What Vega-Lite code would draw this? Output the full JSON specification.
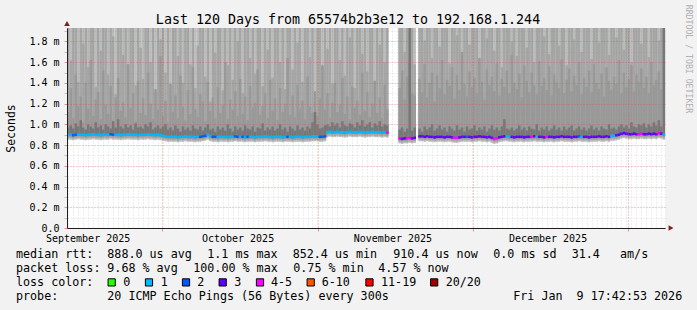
{
"$schema":"https://vega.github.io/schema/vega-lite/v6.json",
"width":598,"height":200,
"autosize":"none",
"padding":{"left":67,"top":28,"right":32,"bottom":82},
"background":"#f2f2f2",
"config":{"view":{"fill":"#ffffff","stroke":null},"text":{"font":"DejaVu Sans Mono"},"axis":{"labelFont":"DejaVu Sans Mono","titleFont":"DejaVu Sans Mono"}},
"resolve":{"scale":{"x":"independent","y":"independent"}},
"layer":[
{"data":{"values":[
{"t":"2025-09-12T00:00","b":1.93,"c":1.12,"e":0.97,"m":0.9,"l":"1"},
{"t":"2025-09-12T12:00","b":1.62,"c":1.35,"e":0.99,"m":0.9,"l":"1"},
{"t":"2025-09-13T00:00","b":1.93,"c":1.06,"e":0.96,"m":0.895,"l":"2"},
{"t":"2025-09-13T12:00","b":1.93,"c":1.48,"e":1.01,"m":0.9,"l":"2"},
{"t":"2025-09-14T00:00","b":1.41,"c":1.18,"e":0.98,"m":0.905,"l":"1"},
{"t":"2025-09-14T12:00","b":1.93,"c":1.27,"e":1.04,"m":0.9,"l":"1"},
{"t":"2025-09-15T00:00","b":1.78,"c":1.02,"e":0.97,"m":0.9,"l":"1"},
{"t":"2025-09-15T12:00","b":1.93,"c":1.4,"e":0.95,"m":0.895,"l":"1"},
{"t":"2025-09-16T00:00","b":1.55,"c":1.15,"e":1.0,"m":0.9,"l":"1"},
{"t":"2025-09-16T12:00","b":1.93,"c":1.62,"e":0.98,"m":0.9,"l":"1"},
{"t":"2025-09-17T00:00","b":1.93,"c":1.08,"e":0.96,"m":0.905,"l":"1"},
{"t":"2025-09-17T12:00","b":1.36,"c":1.24,"e":1.02,"m":0.9,"l":"1"},
{"t":"2025-09-18T00:00","b":1.93,"c":1.31,"e":0.97,"m":0.9,"l":"1"},
{"t":"2025-09-18T12:00","b":1.71,"c":1.05,"e":0.99,"m":0.895,"l":"1"},
{"t":"2025-09-19T00:00","b":1.93,"c":1.52,"e":0.95,"m":0.9,"l":"1"},
{"t":"2025-09-19T12:00","b":1.93,"c":1.19,"e":1.0,"m":0.9,"l":"1"},
{"t":"2025-09-20T00:00","b":1.48,"c":1.1,"e":0.98,"m":0.9,"l":"1"},
{"t":"2025-09-20T12:00","b":1.93,"c":1.37,"e":0.96,"m":0.905,"l":"2"},
{"t":"2025-09-21T00:00","b":1.85,"c":1.04,"e":1.03,"m":0.9,"l":"2"},
{"t":"2025-09-21T12:00","b":1.29,"c":1.26,"e":0.97,"m":0.9,"l":"1"},
{"t":"2025-09-22T00:00","b":1.93,"c":1.45,"e":1.05,"m":0.9,"l":"1"},
{"t":"2025-09-22T12:00","b":1.93,"c":1.13,"e":0.98,"m":0.895,"l":"1"},
{"t":"2025-09-23T00:00","b":1.67,"c":1.21,"e":0.96,"m":0.9,"l":"1"},
{"t":"2025-09-23T12:00","b":1.93,"c":1.07,"e":1.0,"m":0.9,"l":"1"},
{"t":"2025-09-24T00:00","b":1.52,"c":1.58,"e":0.97,"m":0.905,"l":"1"},
{"t":"2025-09-24T12:00","b":1.93,"c":1.16,"e":0.99,"m":0.9,"l":"1"},
{"t":"2025-09-25T00:00","b":1.93,"c":1.3,"e":0.95,"m":0.9,"l":"1"},
{"t":"2025-09-25T12:00","b":1.38,"c":1.03,"e":1.01,"m":0.9,"l":"1"},
{"t":"2025-09-26T00:00","b":1.93,"c":1.42,"e":0.97,"m":0.895,"l":"1"},
{"t":"2025-09-26T12:00","b":1.74,"c":1.11,"e":0.98,"m":0.9,"l":"1"},
{"t":"2025-09-27T00:00","b":1.44,"c":1.25,"e":0.96,"m":0.9,"l":"1"},
{"t":"2025-09-27T12:00","b":1.93,"c":1.09,"e":1.0,"m":0.9,"l":"1"},
{"t":"2025-09-28T00:00","b":1.93,"c":1.5,"e":0.98,"m":0.905,"l":"1"},
{"t":"2025-09-28T12:00","b":1.6,"c":1.2,"e":1.02,"m":0.9,"l":"1"},
{"t":"2025-09-29T00:00","b":1.93,"c":1.05,"e":0.95,"m":0.9,"l":"1"},
{"t":"2025-09-29T12:00","b":1.31,"c":1.34,"e":0.97,"m":0.895,"l":"1"},
{"t":"2025-09-30T00:00","b":1.93,"c":1.14,"e":0.99,"m":0.9,"l":"1"},
{"t":"2025-09-30T12:00","b":1.82,"c":1.66,"e":0.96,"m":0.895,"l":"1"},
{"t":"2025-10-01T00:00","b":1.93,"c":1.08,"e":0.98,"m":0.89,"l":"1"},
{"t":"2025-10-01T12:00","b":1.5,"c":1.23,"e":1.0,"m":0.885,"l":"1"},
{"t":"2025-10-02T00:00","b":1.93,"c":1.02,"e":0.95,"m":0.88,"l":"1"},
{"t":"2025-10-02T12:00","b":1.27,"c":1.39,"e":0.97,"m":0.88,"l":"1"},
{"t":"2025-10-03T00:00","b":1.93,"c":1.12,"e":0.94,"m":0.88,"l":"1"},
{"t":"2025-10-03T12:00","b":1.93,"c":1.28,"e":0.99,"m":0.88,"l":"1"},
{"t":"2025-10-04T00:00","b":1.66,"c":1.06,"e":0.96,"m":0.875,"l":"1"},
{"t":"2025-10-04T12:00","b":1.93,"c":1.47,"e":0.93,"m":0.88,"l":"1"},
{"t":"2025-10-05T00:00","b":1.4,"c":1.17,"e":0.98,"m":0.88,"l":"1"},
{"t":"2025-10-05T12:00","b":1.93,"c":1.04,"e":0.95,"m":0.885,"l":"1"},
{"t":"2025-10-06T00:00","b":1.93,"c":1.33,"e":0.97,"m":0.88,"l":"1"},
{"t":"2025-10-06T12:00","b":1.58,"c":1.1,"e":0.94,"m":0.88,"l":"1"},
{"t":"2025-10-07T00:00","b":1.93,"c":1.55,"e":0.99,"m":0.88,"l":"1"},
{"t":"2025-10-07T12:00","b":1.35,"c":1.15,"e":0.96,"m":0.875,"l":"1"},
{"t":"2025-10-08T00:00","b":1.76,"c":1.07,"e":0.95,"m":0.88,"l":"1"},
{"t":"2025-10-08T12:00","b":1.93,"c":1.29,"e":0.98,"m":0.88,"l":"2"},
{"t":"2025-10-09T00:00","b":1.93,"c":1.22,"e":0.94,"m":0.885,"l":"2"},
{"t":"2025-10-09T12:00","b":1.46,"c":1.03,"e":0.97,"m":0.89,"l":"2"},
{"t":"2025-10-10T00:00","b":1.93,"c":1.41,"e":1.0,"m":0.9,"l":"1"},
{"t":"2025-10-10T12:00","b":1.22,"c":1.13,"e":0.95,"m":0.885,"l":"1"},
{"t":"2025-10-11T00:00","b":1.93,"c":1.26,"e":0.96,"m":0.88,"l":"2"},
{"t":"2025-10-11T12:00","b":1.69,"c":1.06,"e":0.93,"m":0.88,"l":"2"},
{"t":"2025-10-12T00:00","b":1.93,"c":1.36,"e":0.98,"m":0.875,"l":"1"},
{"t":"2025-10-12T12:00","b":1.93,"c":1.11,"e":0.95,"m":0.88,"l":"1"},
{"t":"2025-10-13T00:00","b":1.33,"c":1.19,"e":0.97,"m":0.88,"l":"1"},
{"t":"2025-10-13T12:00","b":1.93,"c":1.6,"e":0.94,"m":0.88,"l":"1"},
{"t":"2025-10-14T00:00","b":1.57,"c":1.05,"e":1.0,"m":0.875,"l":"1"},
{"t":"2025-10-14T12:00","b":1.93,"c":1.24,"e":0.96,"m":0.88,"l":"1"},
{"t":"2025-10-15T00:00","b":1.43,"c":1.14,"e":0.93,"m":0.88,"l":"1"},
{"t":"2025-10-15T12:00","b":1.93,"c":1.32,"e":0.98,"m":0.885,"l":"2"},
{"t":"2025-10-16T00:00","b":1.8,"c":1.08,"e":0.95,"m":0.88,"l":"2"},
{"t":"2025-10-16T12:00","b":1.93,"c":1.44,"e":0.97,"m":0.88,"l":"1"},
{"t":"2025-10-17T00:00","b":1.3,"c":1.1,"e":0.94,"m":0.88,"l":"2"},
{"t":"2025-10-17T12:00","b":1.93,"c":1.27,"e":0.99,"m":0.875,"l":"1"},
{"t":"2025-10-18T00:00","b":1.93,"c":1.04,"e":0.96,"m":0.88,"l":"2"},
{"t":"2025-10-18T12:00","b":1.64,"c":1.37,"e":0.95,"m":0.88,"l":"1"},
{"t":"2025-10-19T00:00","b":1.93,"c":1.16,"e":0.98,"m":0.88,"l":"1"},
{"t":"2025-10-19T12:00","b":1.49,"c":1.21,"e":0.93,"m":0.875,"l":"1"},
{"t":"2025-10-20T00:00","b":1.93,"c":1.53,"e":0.97,"m":0.88,"l":"1"},
{"t":"2025-10-20T12:00","b":1.93,"c":1.09,"e":0.96,"m":0.88,"l":"1"},
{"t":"2025-10-21T00:00","b":1.37,"c":1.18,"e":1.01,"m":0.88,"l":"1"},
{"t":"2025-10-21T12:00","b":1.93,"c":1.3,"e":0.94,"m":0.885,"l":"1"},
{"t":"2025-10-22T00:00","b":1.72,"c":1.06,"e":0.97,"m":0.88,"l":"1"},
{"t":"2025-10-22T12:00","b":1.93,"c":1.43,"e":0.95,"m":0.88,"l":"1"},
{"t":"2025-10-23T00:00","b":1.45,"c":1.13,"e":0.98,"m":0.875,"l":"1"},
{"t":"2025-10-23T12:00","b":1.93,"c":1.25,"e":0.94,"m":0.88,"l":"1"},
{"t":"2025-10-24T00:00","b":1.93,"c":1.04,"e":0.96,"m":0.88,"l":"1"},
{"t":"2025-10-24T12:00","b":1.6,"c":1.35,"e":1.0,"m":0.88,"l":"1"},
{"t":"2025-10-25T00:00","b":1.93,"c":1.12,"e":0.95,"m":0.875,"l":"1"},
{"t":"2025-10-25T12:00","b":1.34,"c":1.2,"e":0.97,"m":0.88,"l":"1"},
{"t":"2025-10-26T00:00","b":1.93,"c":1.64,"e":0.93,"m":0.88,"l":"2"},
{"t":"2025-10-26T12:00","b":1.93,"c":1.09,"e":0.98,"m":0.88,"l":"1"},
{"t":"2025-10-27T00:00","b":1.53,"c":1.28,"e":0.96,"m":0.875,"l":"1"},
{"t":"2025-10-27T12:00","b":1.93,"c":1.07,"e":0.94,"m":0.88,"l":"1"},
{"t":"2025-10-28T00:00","b":1.79,"c":1.38,"e":0.99,"m":0.88,"l":"1"},
{"t":"2025-10-28T12:00","b":1.93,"c":1.15,"e":0.95,"m":0.88,"l":"1"},
{"t":"2025-10-29T00:00","b":1.41,"c":1.23,"e":0.97,"m":0.875,"l":"1"},
{"t":"2025-10-29T12:00","b":1.93,"c":1.05,"e":0.94,"m":0.88,"l":"1"},
{"t":"2025-10-30T00:00","b":1.93,"c":1.46,"e":0.98,"m":0.88,"l":"1"},
{"t":"2025-10-30T12:00","b":1.65,"c":1.17,"e":0.96,"m":0.88,"l":"1"},
{"t":"2025-10-31T00:00","b":1.93,"c":1.11,"e":1.02,"m":0.885,"l":"1"},
{"t":"2025-10-31T12:00","b":1.28,"c":1.32,"e":1.12,"m":0.885,"l":"1"},
{"t":"2025-11-01T00:00","b":1.93,"c":1.08,"e":1.0,"m":0.885,"l":"1"},
{"t":"2025-11-01T12:00","b":1.93,"c":1.25,"e":0.96,"m":0.88,"l":"2"},
{"t":"2025-11-02T00:00","b":1.56,"c":1.57,"e":0.97,"m":0.88,"l":"2"},
{"t":"2025-11-02T12:00","b":1.93,"c":1.14,"e":0.99,"m":0.885,"l":"2"},
{"t":"2025-11-03T00:00","b":1.73,"c":1.3,"e":1.0,"m":0.925,"l":"1"},
{"t":"2025-11-03T12:00","b":1.93,"c":1.06,"e":0.98,"m":0.93,"l":"1"},
{"t":"2025-11-04T00:00","b":1.39,"c":1.21,"e":1.02,"m":0.925,"l":"1"},
{"t":"2025-11-04T12:00","b":1.93,"c":1.4,"e":0.99,"m":0.925,"l":"1"},
{"t":"2025-11-05T00:00","b":1.93,"c":1.12,"e":1.01,"m":0.93,"l":"1"},
{"t":"2025-11-05T12:00","b":1.62,"c":1.19,"e":0.97,"m":0.925,"l":"1"},
{"t":"2025-11-06T00:00","b":1.93,"c":1.45,"e":1.03,"m":0.925,"l":"1"},
{"t":"2025-11-06T12:00","b":1.47,"c":1.1,"e":0.99,"m":0.92,"l":"1"},
{"t":"2025-11-07T00:00","b":1.93,"c":1.27,"e":0.98,"m":0.925,"l":"1"},
{"t":"2025-11-07T12:00","b":1.84,"c":1.05,"e":1.01,"m":0.93,"l":"1"},
{"t":"2025-11-08T00:00","b":1.93,"c":1.36,"e":1.0,"m":0.925,"l":"1"},
{"t":"2025-11-08T12:00","b":1.35,"c":1.16,"e":0.97,"m":0.925,"l":"1"},
{"t":"2025-11-09T00:00","b":1.93,"c":1.23,"e":1.02,"m":0.925,"l":"1"},
{"t":"2025-11-09T12:00","b":1.93,"c":1.09,"e":0.99,"m":0.93,"l":"1"},
{"t":"2025-11-10T00:00","b":1.68,"c":1.5,"e":1.04,"m":0.925,"l":"1"},
{"t":"2025-11-10T12:00","b":1.93,"c":1.13,"e":0.98,"m":0.92,"l":"1"},
{"t":"2025-11-11T00:00","b":1.51,"c":1.31,"e":1.0,"m":0.925,"l":"1"},
{"t":"2025-11-11T12:00","b":1.93,"c":1.07,"e":1.02,"m":0.925,"l":"1"},
{"t":"2025-11-12T00:00","b":1.93,"c":1.2,"e":0.97,"m":0.93,"l":"1"},
{"t":"2025-11-12T12:00","b":1.42,"c":1.42,"e":1.01,"m":0.925,"l":"1"},
{"t":"2025-11-13T00:00","b":1.93,"c":1.11,"e":0.99,"m":0.925,"l":"1"},
{"t":"2025-11-13T12:00","b":1.77,"c":1.26,"e":1.03,"m":0.925,"l":"1"},
{"t":"2025-11-14T00:00","b":1.93,"c":1.06,"e":0.98,"m":0.92,"l":"1"},
{"t":"2025-11-14T12:00","b":1.6,"c":1.38,"e":1.0,"m":0.925,"l":"1"},
{"t":"2025-11-15T00:00","b":1.93,"c":1.15,"e":0.99,"m":0.92,"l":"4-5"},
{"t":"2025-11-17T12:00","b":1.93,"c":1.35,"e":0.95,"m":0.865,"l":"4-5"},
{"t":"2025-11-18T00:00","b":1.93,"c":1.52,"e":0.97,"m":0.86,"l":"3"},
{"t":"2025-11-18T12:00","b":1.7,"c":1.24,"e":0.93,"m":0.865,"l":"3"},
{"t":"2025-11-19T00:00","b":1.93,"c":1.46,"e":0.96,"m":0.865,"l":"4-5"},
{"t":"2025-11-19T12:00","b":1.93,"c":1.6,"e":1.93,"m":0.87,"l":"4-5"},
{"t":"2025-11-20T00:00","b":1.93,"c":1.3,"e":0.94,"m":0.865,"l":"3"},
{"t":"2025-11-20T12:00","b":1.58,"c":1.28,"e":0.97,"m":0.87,"l":"3"},
{"t":"2025-11-21T12:00","b":1.93,"c":1.44,"e":0.96,"m":0.885,"l":"3"},
{"t":"2025-11-22T00:00","b":1.93,"c":1.31,"e":0.93,"m":0.885,"l":"3"},
{"t":"2025-11-22T12:00","b":1.81,"c":1.58,"e":0.98,"m":0.88,"l":"3"},
{"t":"2025-11-23T00:00","b":1.93,"c":1.26,"e":0.95,"m":0.885,"l":"3"},
{"t":"2025-11-23T12:00","b":1.93,"c":1.4,"e":0.97,"m":0.88,"l":"3"},
{"t":"2025-11-24T00:00","b":1.64,"c":1.5,"e":1.0,"m":0.88,"l":"3"},
{"t":"2025-11-24T12:00","b":1.93,"c":1.22,"e":0.94,"m":0.875,"l":"3"},
{"t":"2025-11-25T00:00","b":1.93,"c":1.47,"e":0.96,"m":0.88,"l":"3"},
{"t":"2025-11-25T12:00","b":1.75,"c":1.35,"e":0.99,"m":0.88,"l":"3"},
{"t":"2025-11-26T00:00","b":1.93,"c":1.62,"e":0.95,"m":0.88,"l":"3"},
{"t":"2025-11-26T12:00","b":1.93,"c":1.29,"e":0.97,"m":0.875,"l":"3"},
{"t":"2025-11-27T00:00","b":1.93,"c":1.43,"e":0.93,"m":0.88,"l":"3"},
{"t":"2025-11-27T12:00","b":1.59,"c":1.37,"e":0.98,"m":0.88,"l":"3"},
{"t":"2025-11-28T00:00","b":1.93,"c":1.55,"e":0.96,"m":0.875,"l":"3"},
{"t":"2025-11-28T12:00","b":1.93,"c":1.25,"e":0.94,"m":0.87,"l":"4-5"},
{"t":"2025-11-29T00:00","b":1.86,"c":1.48,"e":0.99,"m":0.87,"l":"4-5"},
{"t":"2025-11-29T12:00","b":1.93,"c":1.33,"e":0.95,"m":0.875,"l":"3"},
{"t":"2025-11-30T00:00","b":1.69,"c":1.7,"e":0.97,"m":0.88,"l":"3"},
{"t":"2025-11-30T12:00","b":1.93,"c":1.39,"e":0.93,"m":0.88,"l":"3"},
{"t":"2025-12-01T00:00","b":1.93,"c":1.27,"e":0.98,"m":0.88,"l":"2"},
{"t":"2025-12-01T12:00","b":1.77,"c":1.51,"e":0.95,"m":0.88,"l":"3"},
{"t":"2025-12-02T00:00","b":1.93,"c":1.36,"e":0.96,"m":0.875,"l":"3"},
{"t":"2025-12-02T12:00","b":1.93,"c":1.45,"e":0.99,"m":0.88,"l":"3"},
{"t":"2025-12-03T00:00","b":1.93,"c":1.3,"e":0.94,"m":0.88,"l":"3"},
{"t":"2025-12-03T12:00","b":1.62,"c":1.64,"e":0.97,"m":0.885,"l":"3"},
{"t":"2025-12-04T00:00","b":1.93,"c":1.41,"e":0.95,"m":0.88,"l":"3"},
{"t":"2025-12-04T12:00","b":1.93,"c":1.24,"e":0.98,"m":0.88,"l":"3"},
{"t":"2025-12-05T00:00","b":1.83,"c":1.53,"e":0.93,"m":0.875,"l":"3"},
{"t":"2025-12-05T12:00","b":1.93,"c":1.38,"e":0.96,"m":0.88,"l":"3"},
{"t":"2025-12-06T00:00","b":1.93,"c":1.46,"e":0.99,"m":0.87,"l":"3"},
{"t":"2025-12-06T12:00","b":1.71,"c":1.32,"e":0.95,"m":0.86,"l":"4-5"},
{"t":"2025-12-07T00:00","b":1.93,"c":1.59,"e":0.97,"m":0.865,"l":"4-5"},
{"t":"2025-12-07T12:00","b":1.93,"c":1.28,"e":0.94,"m":0.875,"l":"3"},
{"t":"2025-12-08T00:00","b":1.55,"c":1.44,"e":0.98,"m":0.88,"l":"3"},
{"t":"2025-12-08T12:00","b":1.93,"c":1.36,"e":1.05,"m":0.885,"l":"3"},
{"t":"2025-12-09T00:00","b":1.93,"c":1.52,"e":0.96,"m":0.885,"l":"1"},
{"t":"2025-12-09T12:00","b":1.93,"c":1.3,"e":0.95,"m":0.88,"l":"1"},
{"t":"2025-12-10T00:00","b":1.8,"c":1.67,"e":0.97,"m":0.88,"l":"3"},
{"t":"2025-12-10T12:00","b":1.93,"c":1.4,"e":0.94,"m":0.875,"l":"3"},
{"t":"2025-12-11T00:00","b":1.66,"c":1.34,"e":0.96,"m":0.88,"l":"3"},
{"t":"2025-12-11T12:00","b":1.93,"c":1.49,"e":0.99,"m":0.88,"l":"3"},
{"t":"2025-12-12T00:00","b":1.93,"c":1.26,"e":0.95,"m":0.88,"l":"3"},
{"t":"2025-12-12T12:00","b":1.93,"c":1.57,"e":0.97,"m":0.875,"l":"3"},
{"t":"2025-12-13T00:00","b":1.74,"c":1.42,"e":0.94,"m":0.88,"l":"3"},
{"t":"2025-12-13T12:00","b":1.93,"c":1.31,"e":0.98,"m":0.88,"l":"3"},
{"t":"2025-12-14T00:00","b":1.93,"c":1.5,"e":0.96,"m":0.88,"l":"4-5"},
{"t":"2025-12-14T12:00","b":1.6,"c":1.38,"e":0.95,"m":0.885,"l":"3"},
{"t":"2025-12-15T00:00","b":1.93,"c":1.29,"e":1.0,"m":0.88,"l":"1"},
{"t":"2025-12-15T12:00","b":1.93,"c":1.61,"e":0.94,"m":0.88,"l":"3"},
{"t":"2025-12-16T00:00","b":1.93,"c":1.37,"e":0.97,"m":0.88,"l":"3"},
{"t":"2025-12-16T12:00","b":1.85,"c":1.45,"e":0.95,"m":0.875,"l":"3"},
{"t":"2025-12-17T00:00","b":1.93,"c":1.33,"e":0.98,"m":0.88,"l":"4-5"},
{"t":"2025-12-17T12:00","b":1.68,"c":1.56,"e":0.94,"m":0.88,"l":"3"},
{"t":"2025-12-18T00:00","b":1.93,"c":1.28,"e":0.96,"m":0.88,"l":"3"},
{"t":"2025-12-18T12:00","b":1.93,"c":1.48,"e":0.99,"m":0.875,"l":"3"},
{"t":"2025-12-19T00:00","b":1.93,"c":1.4,"e":0.95,"m":0.88,"l":"3"},
{"t":"2025-12-19T12:00","b":1.76,"c":1.35,"e":0.97,"m":0.88,"l":"3"},
{"t":"2025-12-20T00:00","b":1.93,"c":1.63,"e":0.94,"m":0.885,"l":"3"},
{"t":"2025-12-20T12:00","b":1.93,"c":1.3,"e":0.98,"m":0.88,"l":"3"},
{"t":"2025-12-21T00:00","b":1.57,"c":1.43,"e":0.95,"m":0.88,"l":"3"},
{"t":"2025-12-21T12:00","b":1.93,"c":1.54,"e":0.97,"m":0.88,"l":"3"},
{"t":"2025-12-22T00:00","b":1.93,"c":1.32,"e":0.99,"m":0.875,"l":"3"},
{"t":"2025-12-22T12:00","b":1.82,"c":1.47,"e":0.94,"m":0.88,"l":"3"},
{"t":"2025-12-23T00:00","b":1.93,"c":1.38,"e":0.96,"m":0.88,"l":"3"},
{"t":"2025-12-23T12:00","b":1.93,"c":1.6,"e":0.98,"m":0.885,"l":"2"},
{"t":"2025-12-24T00:00","b":1.7,"c":1.29,"e":0.95,"m":0.88,"l":"1"},
{"t":"2025-12-24T12:00","b":1.93,"c":1.45,"e":0.97,"m":0.88,"l":"3"},
{"t":"2025-12-25T00:00","b":1.93,"c":1.36,"e":0.94,"m":0.88,"l":"3"},
{"t":"2025-12-25T12:00","b":1.93,"c":1.52,"e":0.96,"m":0.875,"l":"3"},
{"t":"2025-12-26T00:00","b":1.63,"c":1.31,"e":0.99,"m":0.88,"l":"3"},
{"t":"2025-12-26T12:00","b":1.93,"c":1.58,"e":0.95,"m":0.88,"l":"3"},
{"t":"2025-12-27T00:00","b":1.93,"c":1.4,"e":0.97,"m":0.88,"l":"3"},
{"t":"2025-12-27T12:00","b":1.79,"c":1.34,"e":0.94,"m":0.885,"l":"3"},
{"t":"2025-12-28T00:00","b":1.93,"c":1.49,"e":0.98,"m":0.88,"l":"3"},
{"t":"2025-12-28T12:00","b":1.93,"c":1.27,"e":0.96,"m":0.88,"l":"3"},
{"t":"2025-12-29T00:00","b":1.93,"c":1.55,"e":0.95,"m":0.885,"l":"3"},
{"t":"2025-12-29T12:00","b":1.67,"c":1.42,"e":1.0,"m":0.88,"l":"3"},
{"t":"2025-12-30T00:00","b":1.93,"c":1.33,"e":0.96,"m":0.89,"l":"1"},
{"t":"2025-12-30T12:00","b":1.93,"c":1.46,"e":0.97,"m":0.89,"l":"1"},
{"t":"2025-12-31T00:00","b":1.84,"c":1.39,"e":0.95,"m":0.895,"l":"3"},
{"t":"2025-12-31T12:00","b":1.93,"c":1.62,"e":0.98,"m":0.9,"l":"3"},
{"t":"2026-01-01T00:00","b":1.93,"c":1.3,"e":1.0,"m":0.91,"l":"3"},
{"t":"2026-01-01T12:00","b":1.72,"c":1.5,"e":0.97,"m":0.915,"l":"3"},
{"t":"2026-01-02T00:00","b":1.93,"c":1.36,"e":0.99,"m":0.91,"l":"3"},
{"t":"2026-01-02T12:00","b":1.93,"c":1.44,"e":0.96,"m":0.905,"l":"3"},
{"t":"2026-01-03T00:00","b":1.6,"c":1.57,"e":1.02,"m":0.905,"l":"3"},
{"t":"2026-01-03T12:00","b":1.93,"c":1.32,"e":0.98,"m":0.91,"l":"3"},
{"t":"2026-01-04T00:00","b":1.93,"c":1.48,"e":0.97,"m":0.905,"l":"3"},
{"t":"2026-01-04T12:00","b":1.93,"c":1.41,"e":1.0,"m":0.905,"l":"4-5"},
{"t":"2026-01-05T00:00","b":1.78,"c":1.54,"e":0.99,"m":0.91,"l":"4-5"},
{"t":"2026-01-05T12:00","b":1.93,"c":1.35,"e":1.01,"m":0.905,"l":"3"},
{"t":"2026-01-06T00:00","b":1.93,"c":1.46,"e":0.97,"m":0.905,"l":"3"},
{"t":"2026-01-06T12:00","b":1.65,"c":1.3,"e":1.0,"m":0.91,"l":"3"},
{"t":"2026-01-07T00:00","b":1.93,"c":1.6,"e":0.98,"m":0.905,"l":"3"},
{"t":"2026-01-07T12:00","b":1.93,"c":1.38,"e":1.02,"m":0.91,"l":"3"},
{"t":"2026-01-08T00:00","b":1.93,"c":1.43,"e":0.99,"m":0.905,"l":"3"},
{"t":"2026-01-08T12:00","b":1.81,"c":1.51,"e":1.04,"m":0.915,"l":"4-5"},
{"t":"2026-01-09T00:00","b":1.93,"c":1.34,"e":0.98,"m":0.91,"l":"3"},
{"t":"2026-01-09T12:00","b":1.93,"c":1.93,"e":1.93,"m":0.9,"l":"1"}
]},
"resolve":{"axis":{"x":"independent","y":"independent"}},
"layer":[
{"mark":{"type":"rule","strokeWidth":2.5,"color":"#bcbcbc","yOffset":5},
 "encoding":{
  "x":{"field":"t","type":"temporal","scale":{"domain":[{"year":2025,"month":9,"date":11,"hours":17,"minutes":42,"seconds":53},{"year":2026,"month":1,"date":9,"hours":17,"minutes":42,"seconds":53}]},
   "axis":{"orient":"bottom","tickCount":{"interval":"day","step":1},"labels":false,"ticks":false,"domain":false,"grid":true,"gridColor":"#8f8f8f","gridOpacity":0.3,"gridDash":[1,2],"title":null,"zindex":1}},
  "y":{"field":"m","type":"quantitative","scale":{"domain":[0,1.93],"nice":false,"zero":false},
   "axis":{"orient":"left","values":[0.1,0.3,0.5,0.7,0.9,1.1,1.3,1.5,1.7,1.9],"labels":false,"domain":false,"grid":true,"gridColor":"#8f8f8f","gridOpacity":0.3,"gridDash":[1,2],"ticks":true,"tickSize":3,"tickColor":"#8f8f8f","tickOpacity":0.5,"title":null,"zindex":1}},
  "y2":{"datum":1.93}}},
{"mark":{"type":"rule","strokeWidth":2.5,"color":"#a6a6a6","yOffset":3.5},
 "encoding":{
  "x":{"field":"t","type":"temporal","scale":{"domain":[{"year":2025,"month":9,"date":11,"hours":17,"minutes":42,"seconds":53},{"year":2026,"month":1,"date":9,"hours":17,"minutes":42,"seconds":53}]},
   "axis":{"orient":"bottom","values":[{"year":2025,"month":9,"date":30,"hours":19,"minutes":15},{"year":2025,"month":11,"date":1,"hours":2,"minutes":33},{"year":2025,"month":12,"date":2,"hours":5},{"year":2026,"month":1,"date":2,"hours":7,"minutes":30}],"labels":false,"ticks":true,"tickSize":3,"tickColor":"#de4f4f","tickOpacity":0.6,"domain":false,"grid":true,"gridColor":"#de4f4f","gridOpacity":0.6,"gridDash":[1,2],"title":null,"zindex":1}},
  "y":{"field":"m","type":"quantitative","scale":{"domain":[0,1.93],"nice":false,"zero":false},
   "axis":{"orient":"left","values":[0,0.2,0.4,0.6,0.8,1.0,1.2,1.4,1.6,1.8],
    "labelExpr":"datum.value < 0.01 ? '0.0\u00a0\u00a0' : format(datum.value,'.1f')+' m'",
    "grid":true,"gridColor":"#de4f4f","gridOpacity":0.6,"gridDash":[1,2],
    "ticks":true,"tickSize":3,"tickColor":"#de4f4f","tickOpacity":0.6,
    "domain":true,"domainColor":"#1f1f1f",
    "labels":true,"labelFontSize":10,"labelColor":"#000000","labelPadding":5,"labelOverlap":false,"labelBound":false,"labelFlush":false,
    "title":"Seconds","titleFontSize":11.5,"titleFontWeight":"normal","titleColor":"#000000","titlePadding":12,
    "zindex":1}},
  "y2":{"field":"b"}}},
{"mark":{"type":"rule","strokeWidth":2.5,"color":"#999999","yOffset":2},
 "encoding":{
  "x":{"field":"t","type":"temporal","scale":{"domain":[{"year":2025,"month":9,"date":11,"hours":17,"minutes":42,"seconds":53},{"year":2026,"month":1,"date":9,"hours":17,"minutes":42,"seconds":53}]},
   "axis":{"orient":"bottom","values":[{"year":2025,"month":9,"date":15,"hours":21},{"year":2025,"month":10,"date":15,"hours":23},{"year":2025,"month":11,"date":16,"hours":1},{"year":2025,"month":12,"date":17,"hours":4}],"format":"%B %Y","labels":true,"ticks":false,"grid":false,"domain":true,"domainColor":"#1f1f1f","labelFontSize":10,"labelColor":"#000000","labelPadding":5,"labelOverlap":false,"labelFlush":false,"labelBound":false,"title":null,"zindex":1}},
  "y":{"field":"m","type":"quantitative","scale":{"domain":[0,1.93],"nice":false,"zero":false},"axis":null},
  "y2":{"field":"c"}}},
{"mark":{"type":"rule","strokeWidth":2.5,"color":"#777777","yOffset":1},
 "encoding":{
  "x":{"field":"t","type":"temporal","scale":{"domain":[{"year":2025,"month":9,"date":11,"hours":17,"minutes":42,"seconds":53},{"year":2026,"month":1,"date":9,"hours":17,"minutes":42,"seconds":53}]},"axis":null},
  "y":{"field":"m","type":"quantitative","scale":{"domain":[0,1.93],"nice":false,"zero":false},"axis":null},
  "y2":{"field":"e"}}},
{"mark":{"type":"tick","orient":"horizontal","thickness":2.5,"size":2.7,"opacity":1},
 "encoding":{
  "x":{"field":"t","type":"temporal","scale":{"domain":[{"year":2025,"month":9,"date":11,"hours":17,"minutes":42,"seconds":53},{"year":2026,"month":1,"date":9,"hours":17,"minutes":42,"seconds":53}]},"axis":null},
  "y":{"field":"m","type":"quantitative","scale":{"domain":[0,1.93],"nice":false,"zero":false},"axis":null},
  "color":{"field":"l","type":"nominal","scale":{"domain":["0","1","2","3","4-5","6-10","11-19","20/20"],"range":["#26ff00","#00b8ff","#0059ff","#5e00ff","#ff00ff","#ff5500","#ff0000","#a10000"]},"legend":null}}},
{"data":{"values":[{}]},
 "mark":{"type":"point","shape":"triangle-right","filled":true,"size":32,"color":"#7f1f1f","opacity":1},
 "encoding":{
  "x":{"datum":{"year":2026,"month":1,"date":10,"hours":22,"minutes":37},"type":"temporal","scale":{"domain":[{"year":2025,"month":9,"date":11,"hours":17,"minutes":42,"seconds":53},{"year":2026,"month":1,"date":9,"hours":17,"minutes":42,"seconds":53}]},"axis":null},
  "y":{"datum":0,"type":"quantitative","scale":{"domain":[0,1.93],"nice":false,"zero":false},"axis":null}}},
{"data":{"values":[{}]},
 "mark":{"type":"point","shape":"triangle-up","filled":true,"size":32,"color":"#7f1f1f","opacity":1},
 "encoding":{
  "x":{"datum":{"year":2025,"month":9,"date":11,"hours":17,"minutes":42,"seconds":53},"type":"temporal","scale":{"domain":[{"year":2025,"month":9,"date":11,"hours":17,"minutes":42,"seconds":53},{"year":2026,"month":1,"date":9,"hours":17,"minutes":42,"seconds":53}]},"axis":null},
  "y":{"datum":1.973,"type":"quantitative","scale":{"domain":[0,1.93],"nice":false,"zero":false},"axis":null}}}
]},
{"layer":[
{"data":{"values":[
{"r":0,"c":0,"s":"median rtt:"},{"r":0,"c":12.97,"s":"888.0 us avg"},{"r":0,"c":27.17,"s":"1.1 ms max"},{"r":0,"c":39.3,"s":"852.4 us min"},{"r":0,"c":53.59,"s":"910.4 us now"},{"r":0,"c":67.8,"s":"0.0 ms sd"},{"r":0,"c":78.93,"s":"31.4"},{"r":0,"c":85.8,"s":"am/s"},
{"r":1,"c":0,"s":"packet loss:"},{"r":1,"c":12.97,"s":"9.68 % avg"},{"r":1,"c":25.18,"s":"100.00 % max"},{"r":1,"c":39.39,"s":"0.75 % min"},{"r":1,"c":51.46,"s":"4.57 % now"},
{"r":2,"c":0,"s":"loss color:"},{"r":2,"c":15.24,"s":"0"},{"r":2,"c":20.55,"s":"1"},{"r":2,"c":25.75,"s":"2"},{"r":2,"c":31.01,"s":"3"},{"r":2,"c":36.22,"s":"4-5"},{"r":2,"c":43.42,"s":"6-10"},{"r":2,"c":51.85,"s":"11-19"},{"r":2,"c":61.04,"s":"20/20"},
{"r":3,"c":0,"s":"probe:"},{"r":3,"c":12.97,"s":"20 ICMP Echo Pings (56 Bytes) every 300s"},{"r":3,"c":70.64,"s":"Fri Jan\u00a0\u00a09 17:42:53 2026"}
]},
 "mark":{"type":"text","align":"left","baseline":"alphabetic","fontSize":11.7,"font":"DejaVu Sans Mono","color":"#000000"},
 "encoding":{
  "x":{"field":"c","type":"quantitative","scale":{"domain":[7.244,92.19],"nice":false,"zero":false},"axis":null},
  "y":{"field":"r","type":"quantitative","scale":{"domain":[-16.568,-2.18],"nice":false,"zero":false,"reverse":true},"axis":null},
  "text":{"field":"s"}}},
{"data":{"values":[{"r":-16.856,"c":47.16,"s":"Last 120 Days from 65574b2b3e12 to 192.168.1.244"}]},
 "mark":{"type":"text","align":"center","baseline":"alphabetic","fontSize":13.3,"font":"DejaVu Sans Mono","color":"#000000"},
 "encoding":{
  "x":{"field":"c","type":"quantitative","scale":{"domain":[7.244,92.19],"nice":false,"zero":false},"axis":null},
  "y":{"field":"r","type":"quantitative","scale":{"domain":[-16.568,-2.18],"nice":false,"zero":false,"reverse":true},"axis":null},
  "text":{"field":"s"}}},
{"data":{"values":[{"r":-14.34,"c":95.45,"s":"RRDTOOL / TOBI OETIKER"}]},
 "mark":{"type":"text","align":"center","baseline":"middle","angle":90,"fontSize":8.2,"font":"DejaVu Sans Mono","color":"#b0b0b0"},
 "encoding":{
  "x":{"field":"c","type":"quantitative","scale":{"domain":[7.244,92.19],"nice":false,"zero":false},"axis":null},
  "y":{"field":"r","type":"quantitative","scale":{"domain":[-16.568,-2.18],"nice":false,"zero":false,"reverse":true},"axis":null},
  "text":{"field":"s"}}},
{"data":{"values":[
{"r":2,"c":13.59,"l":"0"},{"r":2,"c":18.89,"l":"1"},{"r":2,"c":24.15,"l":"2"},{"r":2,"c":29.36,"l":"3"},{"r":2,"c":34.66,"l":"4-5"},{"r":2,"c":41.86,"l":"6-10"},{"r":2,"c":50.21,"l":"11-19"},{"r":2,"c":59.4,"l":"20/20"}
]},
 "mark":{"type":"point","shape":"square","filled":true,"size":52,"stroke":"#000000","strokeWidth":1,"opacity":1,"yOffset":-3.7},
 "encoding":{
  "x":{"field":"c","type":"quantitative","scale":{"domain":[7.244,92.19],"nice":false,"zero":false},"axis":null},
  "y":{"field":"r","type":"quantitative","scale":{"domain":[-16.568,-2.18],"nice":false,"zero":false,"reverse":true},"axis":null},
  "color":{"field":"l","type":"nominal","scale":{"domain":["0","1","2","3","4-5","6-10","11-19","20/20"],"range":["#26ff00","#00b8ff","#0059ff","#5e00ff","#ff00ff","#ff5500","#ff0000","#a10000"]},"legend":null}}}
]}
]
}
